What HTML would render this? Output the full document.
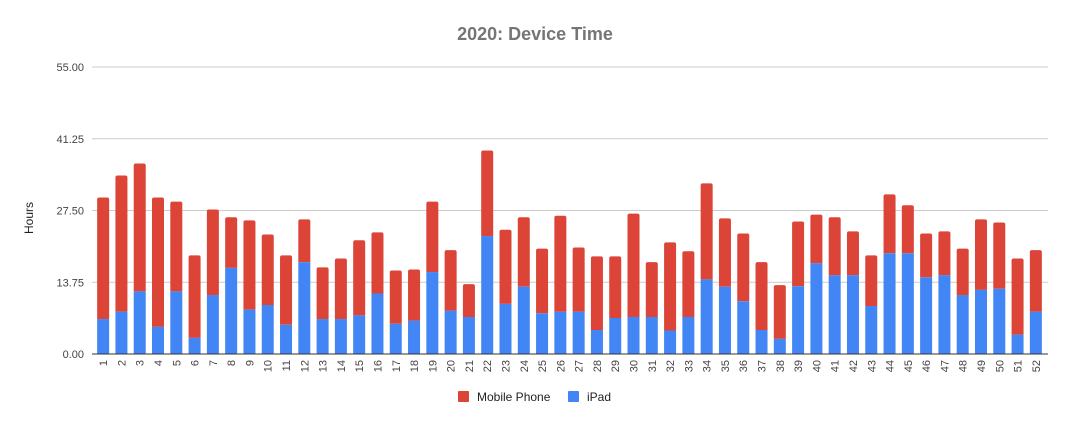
<!DOCTYPE html>
<html><head><meta charset="utf-8"><style>
body{margin:0;background:#fff;font-family:"Liberation Sans",Arial,sans-serif}
</style></head><body>
<svg id="c" width="1070" height="425" xmlns="http://www.w3.org/2000/svg">
<text x="535" y="40" text-anchor="middle" font-size="18" font-weight="bold" fill="#757575">2020: Device Time</text>
<text transform="translate(33,218) rotate(-90)" text-anchor="middle" font-size="12" fill="#222">Hours</text>
<g id="grid"></g><g id="bars"></g><g id="xl"></g>
<g>
<g><rect x="458" y="391" width="11" height="11" rx="1" fill="#db4437"/><text x="477" y="401" font-size="12" fill="#222">Mobile Phone</text></g>
<g><rect x="568" y="391" width="11" height="11" rx="1" fill="#4285f4"/><text x="587" y="401" font-size="12" fill="#222">iPad</text></g>
</g>
</svg>
<script>
const weeks=[];for(let i=1;i<=52;i++)weeks.push(String(i));
const ipad=[6.7,8.1,12.0,5.2,12.0,3.1,11.3,16.5,8.5,9.4,5.6,17.6,6.7,6.7,7.4,11.6,5.8,6.4,15.7,8.3,7.1,22.6,9.6,12.9,7.8,8.1,8.1,4.6,6.9,7.1,7.1,4.5,7.1,14.3,12.9,10.1,4.6,2.9,13.0,17.4,15.1,15.1,9.2,19.3,19.3,14.7,15.1,11.3,12.3,12.5,3.7,8.1];
const mobile=[23.3,26.1,24.5,24.8,17.2,15.8,16.4,9.7,17.1,13.5,13.3,8.2,9.9,11.6,14.4,11.7,10.2,9.8,13.5,11.6,6.3,16.4,14.2,13.3,12.4,18.4,12.3,14.1,11.8,19.8,10.5,16.9,12.6,18.4,13.1,13.0,13.0,10.3,12.4,9.3,11.1,8.4,9.7,11.3,9.2,8.4,8.4,8.9,13.5,12.7,14.6,11.8];
const yTicks=[0,13.75,27.5,41.25,55];
const yTickLabels=["0.00","13.75","27.50","41.25","55.00"];
const NS="http://www.w3.org/2000/svg";
const L=94,R=1045,T=67,B=354,YMAX=55;
const y=v=>B-(v/YMAX)*(B-T);
const slot=(R-L)/weeks.length;
const xc=i=>L+slot*(i+0.5);
const bw=12;
function mk(tag,attrs,parent){const e=document.createElementNS(NS,tag);for(const k in attrs)e.setAttribute(k,attrs[k]);parent.appendChild(e);return e;}
const grid=document.getElementById('grid'),bars=document.getElementById('bars'),xl=document.getElementById('xl');
yTicks.forEach((t,i)=>{
  const ln=mk('line',{x1:92,x2:1048,y1:y(t),y2:y(t),stroke:i==0?'#333':'#ccc','stroke-width':1},grid);
  
  
  const tx=mk('text',{x:84,y:y(t)+4,'text-anchor':'end','font-size':11,fill:'#444'},grid);
  tx.textContent=yTickLabels[i];
  
  
});
weeks.forEach((w,i)=>{
  const x=xc(i)-bw/2;
  const tot=ipad[i]+mobile[i];
  const r=mk('path',{fill:'#db4437',d:`M${x},${y(ipad[i])}V${y(tot)+2}Q${x},${y(tot)} ${x+2},${y(tot)}H${x+bw-2}Q${x+bw},${y(tot)} ${x+bw},${y(tot)+2}V${y(ipad[i])}Z`},bars);
  
  
  const b=mk('rect',{x:x,y:y(ipad[i]),width:bw,height:B-y(ipad[i]),fill:'#4285f4'},bars);
  
  
  const t=mk('text',{transform:`translate(${xc(i)+4},360) rotate(-90)`,'text-anchor':'end','font-size':11,fill:'#444'},xl);
  t.textContent=w;
  
  
});
const base=mk('line',{x1:92,x2:1048,y1:B,y2:B,stroke:'#333','stroke-width':1},bars);


</script>
</body></html>
